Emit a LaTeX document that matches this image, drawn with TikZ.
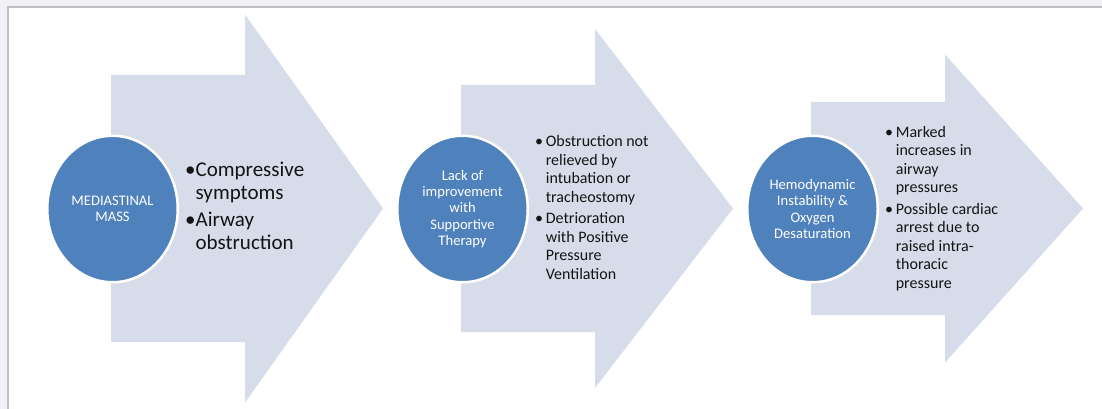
\documentclass[tikz,border=0pt]{standalone}
\usepackage{fontspec}
\setmainfont{Carlito}
\usetikzlibrary{shapes.geometric,positioning}
\definecolor{pagegray}{RGB}{240,241,244}
\definecolor{framegray}{RGB}{192,192,192}
\definecolor{arrowfill}{RGB}{214,220,233}
\definecolor{stageblue}{RGB}{79,129,189}
\definecolor{textdark}{RGB}{20,20,20}
\tikzset{
	stage/.style={ellipse, fill=stageblue, draw=white, line width=2.5pt,
		minimum width=130.5pt, minimum height=146.5pt, inner sep=0pt,
		text=white, align=center, font=\fontsize{14.6}{16.4}\selectfont},
	list/.style={anchor=north west, inner sep=0pt, align=left, text=textdark},
	biglist/.style={list, font=\fontsize{21}{23}\selectfont},
	smalllist/.style={list, font=\fontsize{16}{18.5}\selectfont},
	shaft/.style={fill=arrowfill},
}
\newcommand{\ind}{\phantom{\textbullet}}

\begin{document}
\begin{tikzpicture}[x=1pt, y=-1pt]
	\useasboundingbox (0,0) rectangle (1102,409);
	\fill[pagegray] (0,0) rectangle (1102,409);
	\fill[white] (8,7) rectangle (1102,409);
	\draw[framegray, line width=1.2pt] (8,409) -- (8,7) -- (1102,7);

	\foreach \dx/\bh/\hh in {0/133.5/194, 350/123.5/179.5, 700/106.5/154}
		\fill[shaft] (111+\dx,208.5-\bh) -- (245+\dx,208.5-\bh) -- (245+\dx,208.5-\hh)
		-- (383+\dx,208.5) -- (245+\dx,208.5+\hh) -- (245+\dx,208.5+\bh)
		-- (111+\dx,208.5+\bh) -- cycle;

	\node[stage] (m1) at (112.5,209) {MEDIASTINAL\\MASS};
	\node[stage] (m2) at (462.5,209) {Lack of\\improvement\\with\\Supportive\\Therapy};
	\node[stage] (m3) at (812.5,209) {Hemodynamic\\Instability \&\\Oxygen\\Desaturation};

	\node[biglist] (t1) at (185,162) {\textbullet Compressive\\\ind symptoms\\[4pt]
		\textbullet Airway\\\ind obstruction};
	\node[smalllist] (t2) at (535,135.5) {\textbullet\,Obstruction not\\\ind\,relieved by\\
		\ind\,intubation or\\\ind\,tracheostomy\\[3pt]
		\textbullet\,Detrioration\\\ind\,with Positive\\\ind\,Pressure\\\ind\,Ventilation};
	\node[smalllist] (t3) at (885,126) {\textbullet\,Marked\\\ind\,increases in\\
		\ind\,airway\\\ind\,pressures\\[3pt]
		\textbullet\,Possible cardiac\\\ind\,arrest due to\\\ind\,raised intra-\\
		\ind\,thoracic\\\ind\,pressure};
\end{tikzpicture}
\end{document}
